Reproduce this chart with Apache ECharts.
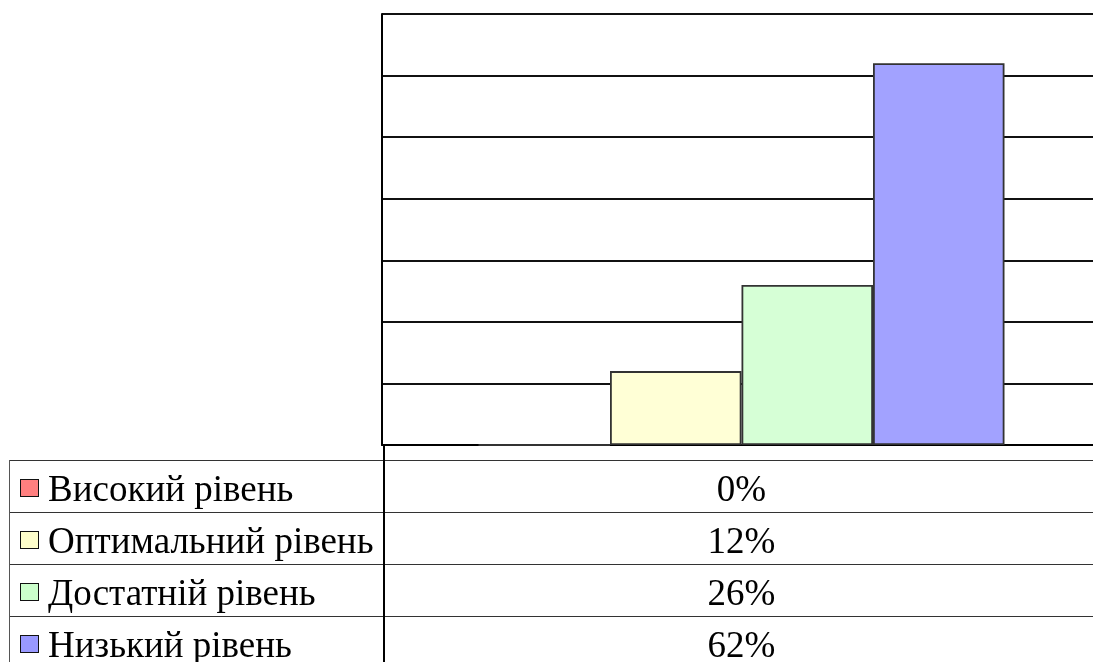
<!DOCTYPE html>
<html><head><meta charset="utf-8">
<script src="https://cdn.jsdelivr.net/npm/echarts@6/dist/echarts.min.js"></script>
<style>
html,body{margin:0;padding:0;background:#fff;overflow:hidden;width:1093px;height:662px;position:relative}
#chart{position:absolute;left:0;top:0;width:1120px;height:662px}
#tbl{position:absolute;left:0;top:0;width:1093px;height:662px;overflow:hidden;font-family:"Liberation Serif","DejaVu Serif",serif;color:#000}
.row{position:absolute;left:9px;width:1100px;height:52px;border-top:1.5px solid #333;box-sizing:border-box}
.lab{position:absolute;left:0;top:1px;width:375px;height:52px;display:flex;align-items:center;font-size:37px;white-space:nowrap}
.sq{display:inline-block;width:17px;height:16px;border:1.6px solid #111;margin-left:11px;margin-right:9px;flex:none}
.val{position:absolute;left:375px;width:715px;top:1px;height:52px;display:flex;align-items:center;justify-content:center;font-size:37px}
#vline{position:absolute;left:383px;top:445px;width:2px;height:220px;background:#000}
#lline{position:absolute;left:9px;top:460px;width:1px;height:210px;background:#555}
</style>
</head><body>
<div id="chart"></div>
<div id="tbl"></div>
<script>
const categories = ['Високий рівень', 'Оптимальний рівень', 'Достатній рівень', 'Низький рівень'];
const values = [0, 12, 26, 62];
const valueLabels = ['0%', '12%', '26%', '62%'];
const barColors = ['#ff8080', '#ffffd6', '#d6ffd6', '#a2a2ff'];
const legendColors = ['#ff7f7f', '#ffffcc', '#ccffcc', '#9999ff'];
const axisMax = 70;
const axisStep = 10;

const chart = echarts.init(document.getElementById('chart'), null, {renderer: 'canvas'});
chart.setOption({
  animation: false,
  backgroundColor: '#fff',
  grid: {left: 382, top: 14, width: 719, height: 431, containLabel: false},
  xAxis: {
    type: 'category', data: [''],
    axisLine: {show: true, lineStyle: {color: '#000', width: 2}},
    axisTick: {show: false}, axisLabel: {show: false}, splitLine: {show: false}
  },
  yAxis: {
    type: 'value', min: 0, max: axisMax, interval: axisStep,
    axisLine: {show: true, lineStyle: {color: '#000', width: 2}},
    axisTick: {show: false}, axisLabel: {show: false},
    splitLine: {show: true, lineStyle: {color: '#111', width: 2}}
  },
  series: categories.map((c, i) => ({
    type: 'bar', name: c, data: [values[i]],
    barWidth: 131.5, barGap: '0%',
    itemStyle: {color: barColors[i], borderColor: '#333', borderWidth: 1.8}
  }))
});

const tbl = document.getElementById('tbl');
categories.forEach((c, i) => {
  const row = document.createElement('div');
  row.className = 'row';
  row.style.top = (460 + i * 52) + 'px';
  const lab = document.createElement('div');
  lab.className = 'lab';
  const sq = document.createElement('span');
  sq.className = 'sq';
  sq.style.background = legendColors[i];
  lab.appendChild(sq);
  lab.appendChild(document.createTextNode(c));
  const val = document.createElement('div');
  val.className = 'val';
  val.textContent = valueLabels[i];
  row.appendChild(lab);
  row.appendChild(val);
  tbl.appendChild(row);
});
const v = document.createElement('div'); v.id = 'vline'; tbl.appendChild(v);
const l = document.createElement('div'); l.id = 'lline'; tbl.appendChild(l);
</script>
</body></html>
